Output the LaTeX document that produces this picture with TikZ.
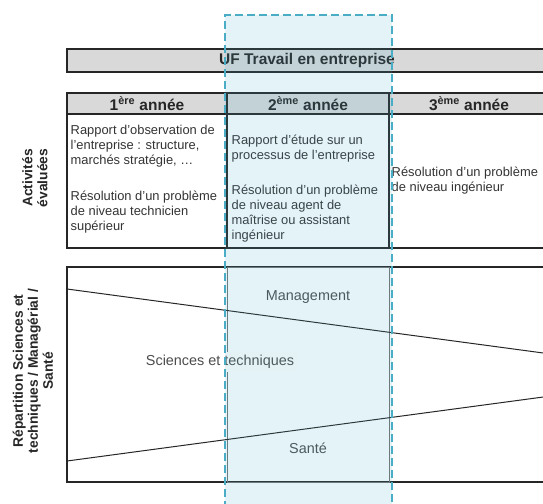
\documentclass[tikz,border=0pt]{standalone}
\usepackage{fontspec}
\setmainfont{Liberation Sans}
\usetikzlibrary{positioning}
\definecolor{hlblue}{HTML}{4BACC6}
\definecolor{headgray}{HTML}{D9D9D9}
\definecolor{textgray}{HTML}{333333}

\begin{document}
\begin{tikzpicture}[x=1pt,y=-1pt,node distance=0pt,
  cell frame/.style={draw=black!85,line width=1.5pt,outer sep=0pt,inner sep=0pt},
  head node/.style={cell frame,fill=headgray,minimum height=21pt,text=black!85,font=\fontsize{15.5}{18}\selectfont\bfseries},
  body node/.style={cell frame,minimum height=134pt},
  cell text/.style={inner sep=0pt,align=left,anchor=west,text=textgray,font=\fontsize{12.9}{15}\selectfont},
  side label/.style={rotate=90,align=center,text=black!85,font=\fontsize{13.8}{15}\selectfont\bfseries},
  part label/.style={text=black!70,font=\fontsize{14.4}{17}\selectfont},
  hilite/.style={draw=hlblue,line width=2pt,dash pattern=on 8pt off 4pt,fill=hlblue,fill opacity=0.15,inner sep=0pt,anchor=north west}]
  \useasboundingbox (0,0) rectangle (543,503);
  \clip (0,0) rectangle (543,503);
  % upper table
  \node[head node,minimum width=480pt,minimum height=23pt] (1) at (307,60.5) {UF Travail en entreprise};
  \node[head node,minimum width=160pt] (2) at (147,103.5) {1\textsuperscript{ère} année};
  \node[head node,minimum width=162pt,right=of 2] (3) {2\textsuperscript{ème} année};
  \node[head node,minimum width=160pt,right=of 3] (4) {3\textsuperscript{ème} année};
  \node[body node,minimum width=160pt,below=of 2] (5) {};
  \node[body node,minimum width=162pt,below=of 3] (6) {};
  \node[body node,minimum width=160pt,below=of 4] (7) {};
  \node[cell text] (t1) at ([xshift=3.5pt,yshift=2.3pt]5.west) {Rapport d'observation de\\l'entreprise : structure,\\marchés stratégie, \dots\\[21pt]Résolution d'un problème\\de niveau technicien\\supérieur};
  \node[cell text] (t2) at ([xshift=4.5pt,yshift=-7.7pt]6.west) {Rapport d'étude sur un\\processus de l'entreprise\\[20pt]Résolution d'un problème\\de niveau agent de\\maîtrise ou assistant\\ingénieur};
  \node[cell text] (t3) at ([xshift=2.5pt]7.west) {Résolution d'un problème\\de niveau ingénieur};
  \node[side label] (a) at (35,178) {Activités\\évaluées};
  % lower box
  \node[cell frame,minimum width=480pt,minimum height=215pt,anchor=north west] (8) at (67,267) {};
  \node[draw=black!55,line width=1pt,minimum width=162pt,minimum height=215pt,inner sep=0pt,anchor=north west] (9) at (227,267) {};
  \coordinate (m1) at (67,289);
  \coordinate (m2) at (547,353.5);
  \coordinate (s1) at (67,461);
  \coordinate (s2) at (547,396.5);
  \draw[line width=1pt,black!85] (m1) -- (m2) (s1) -- (s2);
  \node[part label] (10) at (308,297) {Management};
  \node[part label,fill=white,inner sep=3pt] (11) at (220,362) {Sciences et techniques};
  \node[part label] (12) at (308,448) {Santé};
  \node[side label] (b) at (33,371) {Répartition Sciences et\\techniques / Managérial /\\Santé};
  % highlighted year
  \node[hilite,minimum width=167pt,minimum height=500pt] (hl) at (223.5,14) {};
\end{tikzpicture}
\end{document}
